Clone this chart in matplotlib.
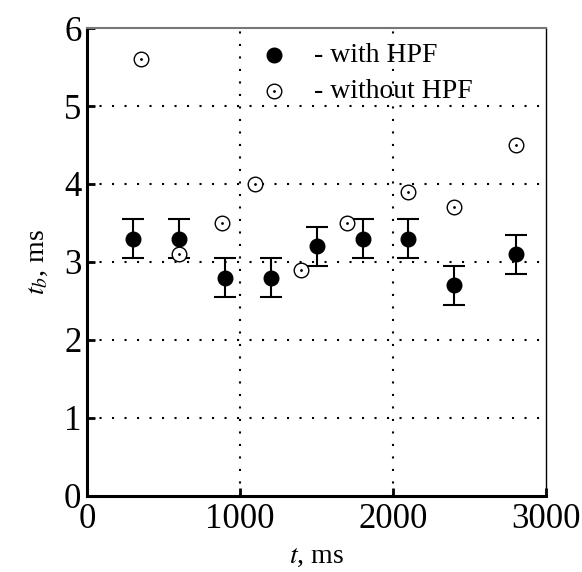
import numpy as np
import matplotlib
matplotlib.use("Agg")
import matplotlib.pyplot as plt

plt.rcParams['font.family'] = ['Liberation Serif', 'DejaVu Serif']
plt.rcParams['mathtext.fontset'] = 'stix'

# with HPF (filled), error +-0.25
t_hpf = [300, 600, 900, 1200, 1500, 1800, 2100, 2400, 2800]
tb_hpf = [3.3, 3.3, 2.8, 2.8, 3.2, 3.3, 3.3, 2.7, 3.1]
err_hpf = [0.25] * 9

# without HPF (open)
t_raw = [350, 600, 880, 1100, 1400, 1700, 2100, 2400, 2800]
tb_raw = [5.6, 3.1, 3.5, 4.0, 2.9, 3.5, 3.9, 3.7, 4.5]

x_ticks = [0, 1000, 2000, 3000]
y_ticks = [0, 1, 2, 3, 4, 5, 6]

fig = plt.figure(figsize=(5.82, 5.72), dpi=100)
ax = fig.add_axes([0.1495, 0.133, 0.789, 0.818])

# dotted grid on inner ticks only
for xv in x_ticks[1:-1]:
    ax.axvline(xv, color='black', lw=1.5, ls=(0, (1, 5)), zorder=0)
for yv in y_ticks[1:-1]:
    ax.axhline(yv, color='black', lw=1.5, ls=(0, (1, 5)), zorder=0)

ax.errorbar(t_hpf, tb_hpf, yerr=err_hpf, fmt='o', color='black', ms=10.5,
            elinewidth=1.5, capsize=8, capthick=1.5, zorder=3)
ax.plot(t_raw, tb_raw, 'o', mfc='white', mec='black', mew=1.0, ms=10.5, zorder=4)
ax.plot(t_raw, tb_raw, 'o', color='black', ms=1, zorder=5)

# legend drawn as text with markers
ax.plot([1220], [5.65], 'o', color='black', ms=10.5)
ax.plot([1220], [5.19], 'o', mfc='white', mec='black', mew=1.0, ms=10.5)
ax.plot([1220], [5.19], 'o', color='black', ms=1)
ax.text(1480, 5.65, '- with HPF', fontsize=20, va='center', ha='left')
ax.text(1480, 5.19, '- without HPF', fontsize=20, va='center', ha='left')

ax.set_xlim(0, 3000)
ax.set_ylim(0, 6)
ax.set_xticks(x_ticks)
ax.set_yticks(y_ticks)
ax.tick_params(direction='in', labelsize=25, width=2, length=6)
ax.tick_params(axis='x', pad=5)
ax.tick_params(axis='y', pad=4)

ax.spines['left'].set_linewidth(2.2)
ax.spines['bottom'].set_linewidth(2.2)
ax.spines['right'].set_linewidth(1.0)
ax.spines['top'].set_linewidth(1.5)
ax.spines['top'].set_color('#777777')

ax.set_xlabel('$t$, ms', fontsize=20, labelpad=6)
ax.set_ylabel('$t_b$, ms', fontsize=20, labelpad=10)

fig.savefig('out.png', dpi=100)
